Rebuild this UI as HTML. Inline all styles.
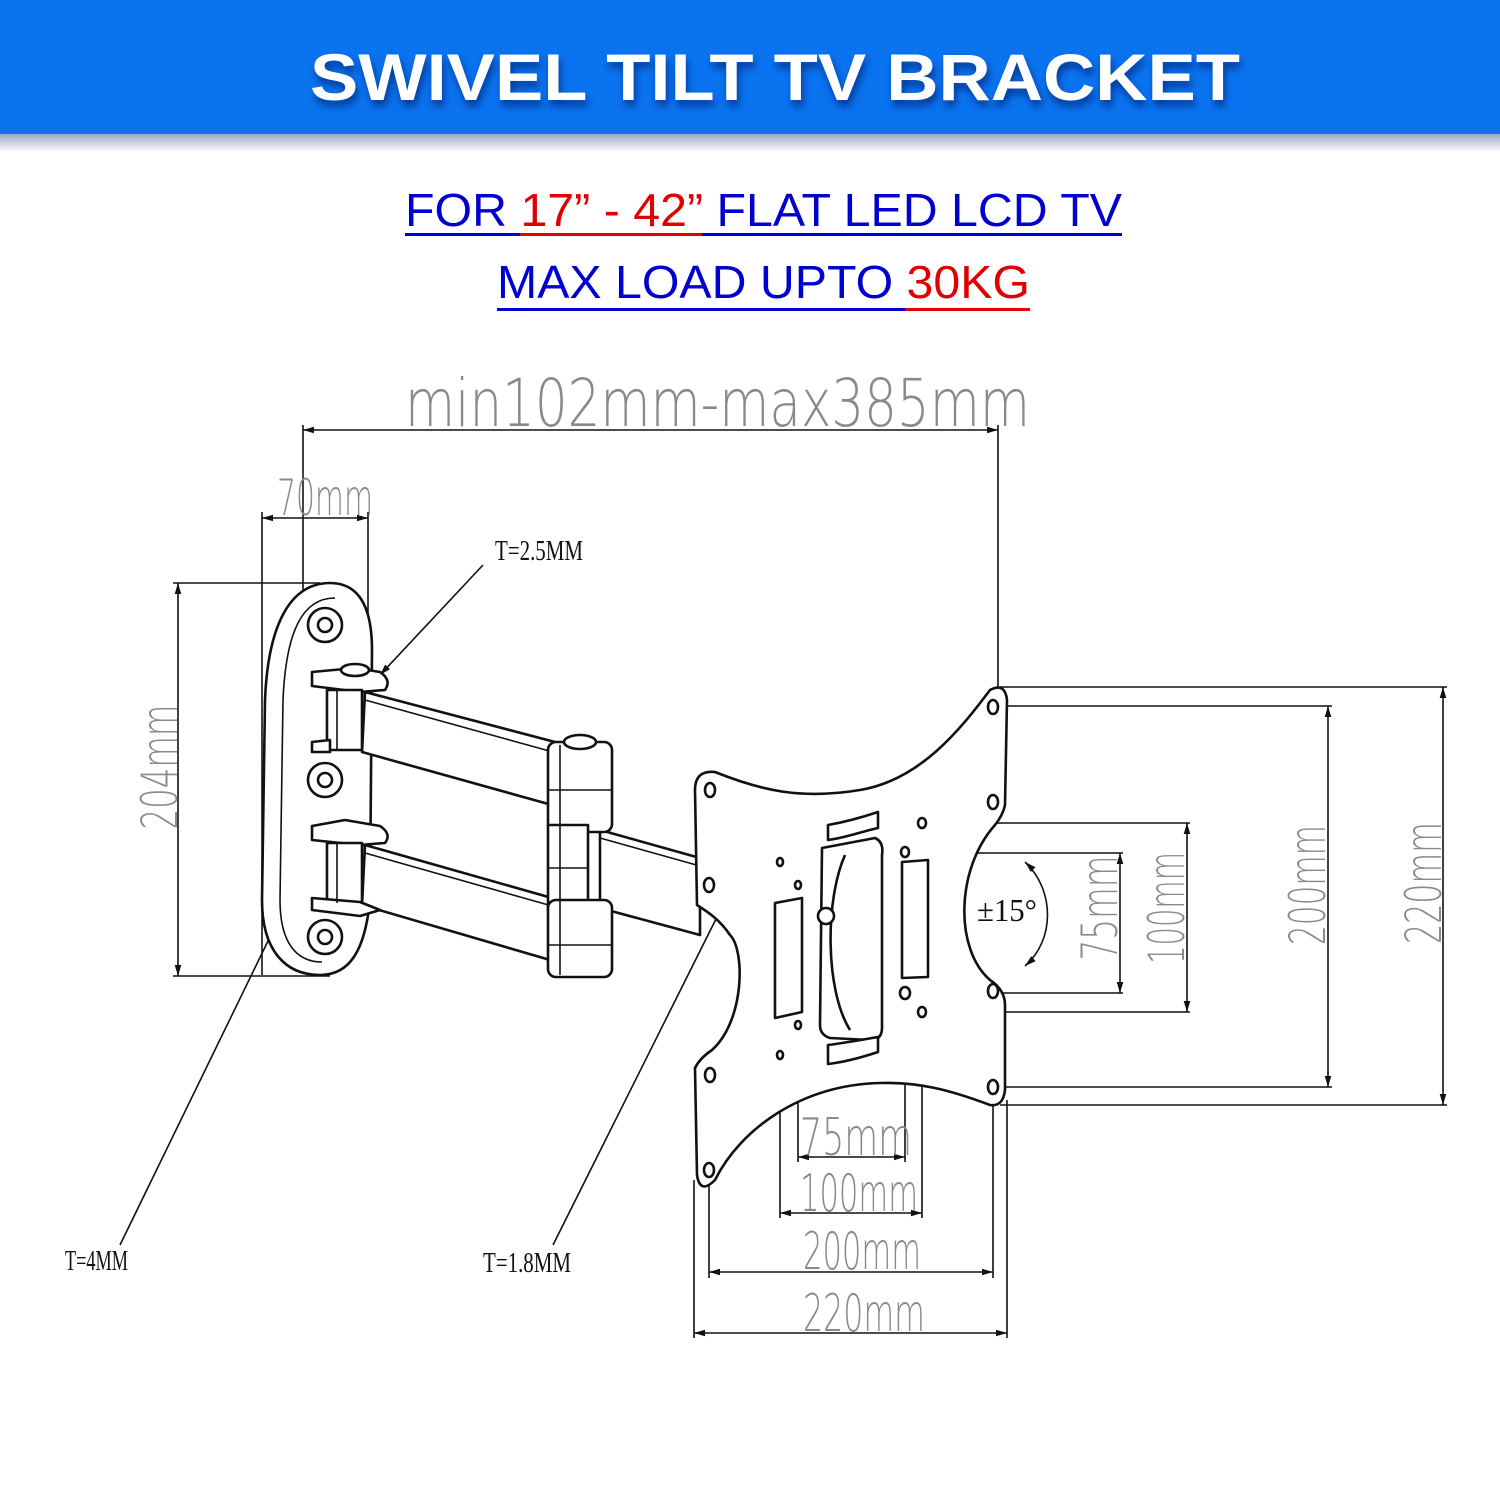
<!DOCTYPE html>
<html><head><meta charset="utf-8"><style>
html,body{margin:0;padding:0;background:#fff}
svg{display:block}
.d{font-family:"DejaVu Sans","Liberation Sans",sans-serif;font-weight:200;fill:#8a8a8a}
.k{fill:none;stroke:#111;stroke-width:1.6}
.p{fill:#fff;stroke:#111;stroke-width:2.6;stroke-linejoin:round}
.t{font-family:"Liberation Serif",serif;fill:#111}
</style></head><body>
<svg width="1500" height="1500" viewBox="0 0 1500 1500" xmlns="http://www.w3.org/2000/svg">
<defs>
<linearGradient id="sh" x1="0" y1="0" x2="0" y2="1"><stop offset="0" stop-color="#9aa9c8"/><stop offset="1" stop-color="#fff"/></linearGradient>
<marker id="a" viewBox="0 0 10 10" refX="10" refY="5" markerWidth="7" markerHeight="7" orient="auto-start-reverse"><path d="M0 2 L10 5 L0 8 Z" fill="#111"/></marker>
</defs>
<rect x="0" y="0" width="1500" height="134" fill="#0a73f0"/>
<rect x="0" y="134" width="1500" height="18" fill="url(#sh)"/>
<text x="775" y="100" text-anchor="middle" font-family="Liberation Sans,sans-serif" font-weight="bold" font-size="66" fill="#fff" textLength="930" lengthAdjust="spacingAndGlyphs" style="filter:drop-shadow(2px 6px 4px rgba(0,0,60,.5))">SWIVEL TILT TV BRACKET</text>

<text x="405" y="226" font-family="Liberation Sans,sans-serif" font-size="46" textLength="717" lengthAdjust="spacingAndGlyphs"><tspan fill="#0000d0">FOR </tspan><tspan fill="#e00000">17” - 42”</tspan><tspan fill="#0000d0"> FLAT LED LCD TV</tspan></text>
<rect x="405" y="233" width="115" height="3" fill="#0000d0"/><rect x="520" y="233" width="182" height="3" fill="#e00000"/><rect x="702" y="233" width="420" height="3" fill="#0000d0"/>
<text x="497" y="298" font-family="Liberation Sans,sans-serif" font-size="46" textLength="533" lengthAdjust="spacingAndGlyphs"><tspan fill="#0000d0">MAX LOAD UPTO </tspan><tspan fill="#e00000">30KG</tspan></text>
<rect x="497" y="308" width="408" height="3" fill="#0000d0"/><rect x="905" y="308" width="125" height="3" fill="#e00000"/>

<!-- dimension lines -->
<g class="k">
<line x1="303" y1="430" x2="998" y2="430" marker-start="url(#a)" marker-end="url(#a)"/>
<line x1="303" y1="425" x2="303" y2="700"/><line x1="998" y1="425" x2="998" y2="688"/>
<line x1="262" y1="518" x2="368" y2="518" marker-start="url(#a)" marker-end="url(#a)"/>
<line x1="262" y1="512" x2="262" y2="975"/><line x1="368" y1="512" x2="368" y2="640"/>
<line x1="178" y1="583" x2="178" y2="976" marker-start="url(#a)" marker-end="url(#a)"/>
<line x1="173" y1="583" x2="320" y2="583"/><line x1="173" y1="976" x2="330" y2="976"/>
<line x1="1000" y1="687" x2="1447" y2="687"/><line x1="1000" y1="1105" x2="1447" y2="1105"/>
<line x1="1443" y1="687" x2="1443" y2="1105" marker-start="url(#a)" marker-end="url(#a)"/>
<line x1="1000" y1="706" x2="1332" y2="706"/><line x1="1000" y1="1087" x2="1332" y2="1087"/>
<line x1="1328" y1="706" x2="1328" y2="1087" marker-start="url(#a)" marker-end="url(#a)"/>
<line x1="925" y1="823" x2="1190" y2="823"/><line x1="925" y1="1012" x2="1190" y2="1012"/>
<line x1="1187" y1="823" x2="1187" y2="1012" marker-start="url(#a)" marker-end="url(#a)"/>
<line x1="905" y1="853" x2="1123" y2="853"/><line x1="905" y1="993" x2="1123" y2="993"/>
<line x1="1120" y1="853" x2="1120" y2="993" marker-start="url(#a)" marker-end="url(#a)"/>
<line x1="798" y1="1025" x2="798" y2="1162"/><line x1="905" y1="993" x2="905" y2="1162"/>
<line x1="798" y1="1157" x2="905" y2="1157" marker-start="url(#a)" marker-end="url(#a)"/>
<line x1="780" y1="1055" x2="780" y2="1218"/><line x1="922" y1="1012" x2="922" y2="1218"/>
<line x1="780" y1="1213" x2="922" y2="1213" marker-start="url(#a)" marker-end="url(#a)"/>
<line x1="709" y1="1170" x2="709" y2="1278"/><line x1="993" y1="1087" x2="993" y2="1278"/>
<line x1="709" y1="1272" x2="993" y2="1272" marker-start="url(#a)" marker-end="url(#a)"/>
<line x1="694" y1="1180" x2="694" y2="1338"/><line x1="1007" y1="1100" x2="1007" y2="1338"/>
<line x1="694" y1="1333" x2="1007" y2="1333" marker-start="url(#a)" marker-end="url(#a)"/>
<line x1="483" y1="565" x2="380" y2="675" marker-end="url(#a)"/>
<line x1="120" y1="1245" x2="305" y2="865" marker-end="url(#a)"/>
<line x1="553" y1="1245" x2="748" y2="855" marker-end="url(#a)"/>
<path d="M1025 862 C1055 890 1055 940 1025 966" marker-start="url(#a)" marker-end="url(#a)"/>
</g>

<!-- dimension text -->
<text class="d" x="405" y="426" font-size="66" textLength="625" lengthAdjust="spacingAndGlyphs">min102mm-max385mm</text>
<text class="d" x="277" y="515" font-size="50" textLength="96" lengthAdjust="spacingAndGlyphs">70mm</text>
<text class="d" x="800" y="1155" font-size="52" textLength="112" lengthAdjust="spacingAndGlyphs">75mm</text>
<text class="d" x="800" y="1211" font-size="52" textLength="118" lengthAdjust="spacingAndGlyphs">100mm</text>
<text class="d" x="803" y="1269" font-size="52" textLength="118" lengthAdjust="spacingAndGlyphs">200mm</text>
<text class="d" x="803" y="1331" font-size="52" textLength="122" lengthAdjust="spacingAndGlyphs">220mm</text>
<text class="d" transform="translate(177,767) rotate(-90)" x="0" y="0" text-anchor="middle" font-size="50" textLength="125" lengthAdjust="spacingAndGlyphs">204mm</text>
<text class="d" transform="translate(1117,908) rotate(-90)" text-anchor="middle" font-size="50" textLength="105" lengthAdjust="spacingAndGlyphs">75mm</text>
<text class="d" transform="translate(1184,908) rotate(-90)" text-anchor="middle" font-size="50" textLength="112" lengthAdjust="spacingAndGlyphs">100mm</text>
<text class="d" transform="translate(1325,885) rotate(-90)" text-anchor="middle" font-size="50" textLength="120" lengthAdjust="spacingAndGlyphs">200mm</text>
<text class="d" transform="translate(1441,883) rotate(-90)" text-anchor="middle" font-size="50" textLength="122" lengthAdjust="spacingAndGlyphs">220mm</text>

<text class="t" x="495" y="560" font-size="28" textLength="88" lengthAdjust="spacingAndGlyphs">T=2.5MM</text>
<text class="t" x="65" y="1270" font-size="28" textLength="63" lengthAdjust="spacingAndGlyphs">T=4MM</text>
<text class="t" x="483" y="1272" font-size="28" textLength="88" lengthAdjust="spacingAndGlyphs">T=1.8MM</text>
<text class="t" x="977" y="921" font-size="32" textLength="60" lengthAdjust="spacingAndGlyphs">±15°</text>

<!-- wall plate -->
<path class="p" d="M330 583 C290 583 268 625 265 700 L262 900 C262 950 285 975 320 975 C350 975 365 950 370 900 L372 650 C372 605 358 583 330 583 Z"/>
<path class="k" d="M335 598 C303 598 286 630 283 700 L280 900 C280 945 298 962 322 962" stroke-width="1.8"/>
<g class="p" stroke-width="2">
<circle cx="325" cy="625" r="17"/><circle cx="325" cy="625" r="7"/>
<circle cx="325" cy="780" r="17"/><circle cx="325" cy="780" r="7"/>
<circle cx="325" cy="937" r="17"/><circle cx="325" cy="937" r="7"/>
</g>
<!-- arms -->
<path class="p" d="M365 692 L555 742 L552 805 L362 752 Z"/>
<path class="k" d="M365 700 L553 752"/>
<path class="p" d="M365 845 L552 898 L550 960 L362 905 Z"/>
<path class="k" d="M365 853 L552 906"/>
<path class="p" d="M600 830 L700 858 L700 935 L600 908 Z"/>
<path class="k" d="M600 838 L700 866"/>
<!-- wall hinges -->
<g class="p">
<path d="M312 672 L355 668 L380 672 Q392 680 385 690 L360 692 L312 686 Z"/>
<rect x="327" y="690" width="35" height="60"/>
<path d="M312 742 L330 740 L330 752 L312 752 Z"/>
<ellipse cx="355" cy="670" rx="14" ry="6"/>
<path d="M312 826 L345 820 L380 826 Q392 834 385 843 L360 845 L312 840 Z"/>
<rect x="327" y="843" width="35" height="60"/>
<path d="M312 898 L360 902 L380 910 L360 916 L312 910 Z"/>
</g>
<line class="k" x1="337" y1="690" x2="337" y2="750"/><line class="k" x1="337" y1="843" x2="337" y2="903"/>
<!-- elbow -->
<g class="p">
<rect x="548" y="742" width="64" height="90" rx="8"/>
<rect x="548" y="825" width="40" height="85"/>
<rect x="548" y="900" width="64" height="77" rx="8"/>
<ellipse cx="580" cy="742" rx="16" ry="7"/>
</g>
<g class="k"><line x1="560" y1="745" x2="560" y2="975"/><line x1="548" y1="790" x2="612" y2="790"/><line x1="548" y1="945" x2="612" y2="945"/><line x1="548" y1="868" x2="588" y2="868"/></g>

<!-- TV plate -->
<path class="p" d="M695 790 Q695 770 715 772 C760 790 800 800 860 790 C920 780 960 730 990 690 Q1005 682 1007 700 L1005 805 Q1003 815 995 825 C955 870 955 950 990 980 Q1005 990 1005 1005 L1005 1090 Q1003 1107 990 1105 C950 1090 920 1082 880 1083 C800 1085 740 1130 715 1180 Q700 1195 697 1175 L695 1068 Q700 1058 712 1050 C745 1020 745 950 730 935 C720 920 708 912 697 905 Z"/>
<g class="p" stroke-width="2.4">
<ellipse cx="710" cy="790" rx="5" ry="7"/><ellipse cx="709" cy="885" rx="5" ry="7"/>
<ellipse cx="710" cy="1075" rx="5" ry="7"/><ellipse cx="709" cy="1170" rx="5" ry="7"/>
<ellipse cx="993" cy="707" rx="5" ry="7"/><ellipse cx="993" cy="802" rx="5" ry="7"/>
<ellipse cx="993" cy="991" rx="5" ry="7"/><ellipse cx="993" cy="1087" rx="5" ry="7"/>
<ellipse cx="922" cy="823" rx="4" ry="5"/><ellipse cx="905" cy="852" rx="4" ry="5"/>
<ellipse cx="905" cy="993" rx="5" ry="6"/><ellipse cx="922" cy="1012" rx="4" ry="5"/>
<ellipse cx="798" cy="885" rx="3" ry="4"/><ellipse cx="780" cy="862" rx="3" ry="4"/>
<ellipse cx="798" cy="1025" rx="3" ry="4"/><ellipse cx="780" cy="1055" rx="3" ry="4"/>
<path d="M775 903 L802 898 L802 1012 L775 1018 Z"/>
<path d="M822 848 L875 838 Q884 842 882 855 L882 1028 Q882 1040 870 1040 L830 1038 Q820 1035 820 1025 Z"/>
<path d="M845 855 C825 900 825 990 850 1030" fill="none"/>
<path d="M828 825 C845 822 860 818 878 812 L878 828 C860 832 845 838 828 840 Z"/>
<path d="M828 1045 C845 1043 860 1040 878 1037 L878 1052 C860 1058 845 1062 828 1064 Z"/>
<path d="M902 862 L928 860 L928 977 L902 978 Z"/>
<circle cx="826" cy="916" r="8"/>
</g>
</svg>
</body></html>
